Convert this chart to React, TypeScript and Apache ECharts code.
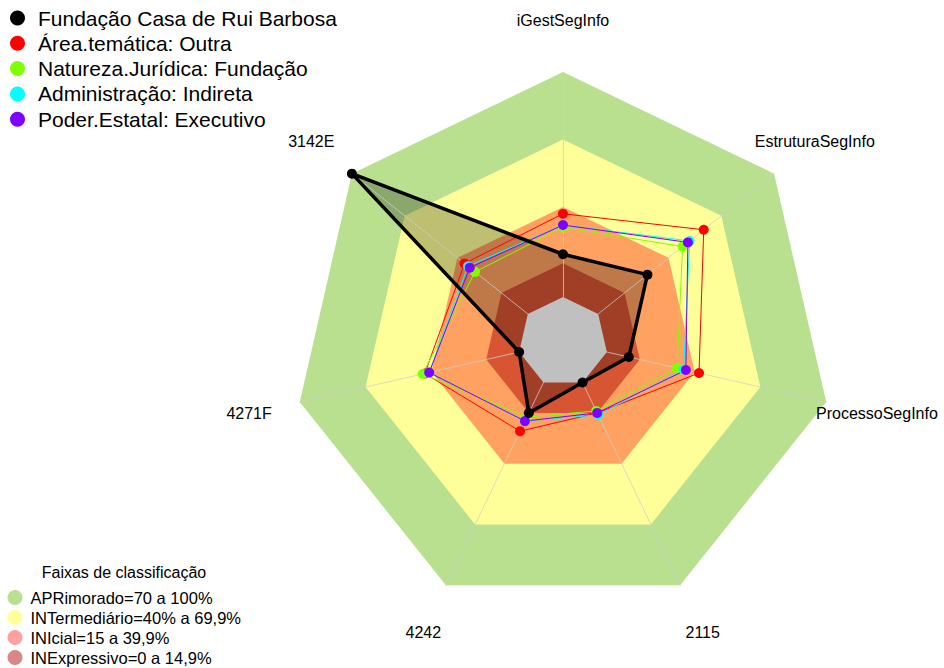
import React, { useEffect, useRef } from 'react';
import * as echarts from 'echarts';

// Indicators listed counter-clockwise starting at the top (ECharts radar order)
const indicators = ['iGestSegInfo', '3142E', '4271F', '4242', '2115', 'ProcessoSegInfo', 'EstruturaSegInfo'];

const seriesNames = [
  'Fundação Casa de Rui Barbosa',
  'Área.temática: Outra',
  'Natureza.Jurídica: Fundação',
  'Administração: Indireta',
  'Poder.Estatal: Executivo',
];
const seriesColors = ['#000000', '#ff0000', '#80ff00', '#00ffff', '#8000ff'];

const fundacao = [19, 100, 0, 15, 0, 10, 28];
const areaTematica = [37, 36, 43, 24, 15, 42, 60];
const naturezaJuridica = [31, 30, 44, 17, 14, 32, 48];
const administracao = [32, 34, 41, 19, 16, 35, 52];
const poderEstatal = [32, 33, 41, 19, 15, 36, 51];

const bandNames = [
  'APRimorado=70 a 100%',
  'INTermediário=40% a 69,9%',
  'INIcial=15 a 39,9%',
  'INExpressivo=0 a 14,9%',
];
const bandLimits = [100, 70, 40, 15];
const bandColors = ['#b8e08f', '#ffff99', 'rgba(255,0,0,0.37)', 'rgba(170,0,0,0.47)'];

const FONT = '"Liberation Sans", Arial, sans-serif';

export default function App() {
  const ref = useRef<HTMLDivElement>(null);

  useEffect(() => {
    document.body.style.margin = '0';
    if (!ref.current) return;
    const chart = echarts.init(ref.current, null, { renderer: 'svg' });

    const n = indicators.length;
    const bandSeries = bandNames.map((name, i) => ({
      type: 'radar',
      name,
      z: 1,
      silent: true,
      symbol: 'none',
      itemStyle: { color: bandColors[i] },
      lineStyle: { width: 0, opacity: 0 },
      areaStyle: { color: bandColors[i], opacity: 1 },
      data: [{ value: new Array(n).fill(bandLimits[i]), name }],
    }));

    const dataSets = [fundacao, areaTematica, naturezaJuridica, administracao, poderEstatal];

    const blackFill = {
      type: 'radar',
      name: '_fill',
      z: 2,
      silent: true,
      symbol: 'none',
      lineStyle: { width: 0, opacity: 0 },
      areaStyle: { color: 'rgba(0,0,0,0.25)', opacity: 1 },
      data: [{ value: fundacao }],
    };

    const hole = {
      type: 'radar',
      name: '_hole',
      z: 3,
      silent: true,
      symbol: 'none',
      lineStyle: { width: 0, opacity: 0 },
      areaStyle: { color: '#c0c0c0', opacity: 1 },
      data: [{ value: new Array(n).fill(0) }],
    };

    const dataSeries = seriesNames.map((name, i) => ({
      type: 'radar',
      name,
      z: i === 0 ? 6 : 5,
      silent: true,
      symbol: 'circle',
      symbolSize: 10,
      itemStyle: { color: seriesColors[i] },
      lineStyle: { color: seriesColors[i], width: i === 0 ? 3.5 : 1 },
      data: [{ value: dataSets[i], name }],
    }));

    chart.setOption({
      animation: false,
      backgroundColor: '#ffffff',
      radar: {
        center: [563, 342],
        radius: [45, 270],
        startAngle: 90,
        shape: 'polygon',
        z: 4,
        splitNumber: 1,
        nameGap: 52,
        axisName: {
          color: '#000',
          fontSize: 16,
          fontFamily: FONT,
          align: 'center',
          verticalAlign: 'middle',
        },
        indicator: indicators.map((name) => ({ name, min: 0, max: 100 })),
        axisLine: { show: true, lineStyle: { color: 'rgba(205,205,205,0.75)', width: 1 } },
        splitLine: { show: false },
        splitArea: { show: false },
        axisTick: { show: false },
        axisLabel: { show: false },
      },
      legend: [
        {
          orient: 'vertical',
          left: 10,
          top: 7.5,
          padding: 0,
          itemGap: 4.3,
          itemWidth: 31,
          itemHeight: 15,
          icon: 'circle',
          selectedMode: false,
          data: seriesNames,
          textStyle: { fontSize: 21, color: '#000', fontFamily: FONT },
          itemStyle: { borderWidth: 0 },
        },
        {
          orient: 'vertical',
          left: 7.5,
          top: 589,
          height: 120,
          padding: 0,
          itemGap: 3,
          itemWidth: 21,
          itemHeight: 15,
          icon: 'circle',
          selectedMode: false,
          data: bandNames,
          textStyle: { fontSize: 16.5, color: '#000', fontFamily: FONT },
          itemStyle: { borderWidth: 0 },
        },
      ],
      graphic: [
        {
          type: 'text',
          silent: true,
          style: {
            text: 'Faixas de classificação',
            x: 124,
            y: 572,
            align: 'center',
            verticalAlign: 'middle',
            fill: '#000',
            fontSize: 16,
            fontFamily: FONT,
          },
        },
      ],
      series: [...bandSeries, blackFill, hole, ...dataSeries],
    });

    return () => chart.dispose();
  }, []);

  return <div ref={ref} style={{ width: 944, height: 668 }} />;
}
